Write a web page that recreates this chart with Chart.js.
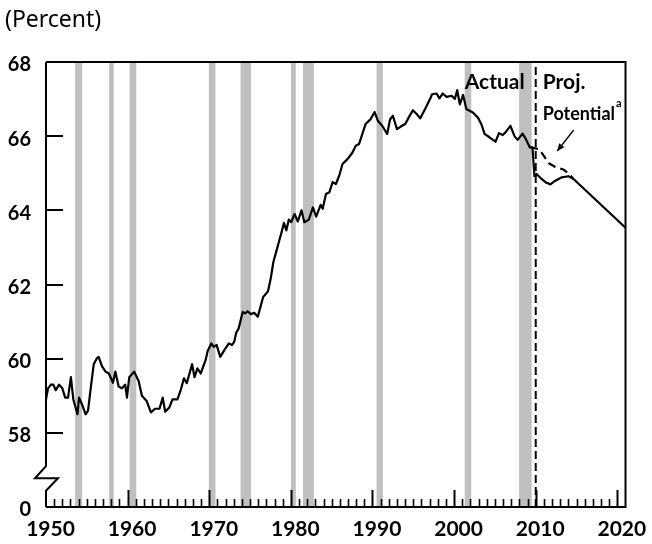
<!DOCTYPE html>
<html>
<head>
<meta charset="utf-8">
<script src="https://cdn.jsdelivr.net/npm/chart.js@4/dist/chart.umd.min.js"></script>
<style>
html,body{margin:0;padding:0;background:#fff;}
#wrap{width:652px;height:544px;position:relative;}
canvas{display:block;}
</style>
</head>
<body>
<div id="wrap"><canvas id="c" width="652" height="544"></canvas></div>
<script>
// ---------- DATA ----------
const actualYears = [
  1950.0,1950.25,1950.6,1950.9,1951.2,1951.6,1952.0,1952.35,1952.7,1953.05,1953.35,1953.85,
  1954.05,1954.45,1954.85,1955.15,1955.45,1955.85,1956.2,1956.45,1956.85,1957.3,1957.7,1958.2,
  1958.5,1958.9,1959.3,1959.7,1959.92,1960.2,1960.8,1961.35,1961.75,1962.35,1962.85,1963.35,
  1963.9,1964.3,1964.6,1965.1,1965.5,1966.1,1966.5,1966.9,1967.25,1967.9,1968.2,1968.55,
  1968.95,1969.55,1969.8,1970.25,1970.55,1970.9,1971.35,1971.85,1972.4,1972.8,1973.07,1973.3,
  1973.6,1974.1,1974.4,1974.7,1975.1,1975.5,1975.95,1976.6,1977.2,1977.55,1977.85,1978.25,
  1978.6,1978.85,1979.15,1979.45,1979.75,1980.05,1980.45,1980.85,1981.3,1981.65,1982.2,1982.7,
  1983.1,1983.65,1983.9,1984.3,1984.72,1985.12,1985.52,1985.93,1986.33,1986.94,1987.55,1987.95,
  1988.36,1988.76,1989.16,1989.77,1990.26,1990.67,1991.19,1991.8,1992.15,1992.5,1993.0,1993.62,
  1994.02,1994.43,1994.95,1995.44,1995.84,1996.45,1997.05,1997.3,1997.86,1998.2,1998.6,1999.08,
  1999.69,2000.09,2000.38,2000.7,2001.1,2001.5,2002.3,2002.92,2003.33,2003.73,2004.33,2005.07,
  2005.5,2005.96,2006.36,2006.9,2007.4,2007.78,2008.39,2008.79,2009.27,2009.6,2009.85
];
const actualValues = [
  58.9,59.2,59.3,59.3,59.15,59.3,59.2,58.95,58.95,59.5,58.9,58.5,
  58.95,58.75,58.5,58.6,59.15,59.85,60.0,60.05,59.8,59.65,59.6,59.35,
  59.65,59.25,59.2,59.3,58.95,59.5,59.65,59.4,59.0,58.85,58.55,58.65,
  58.65,58.95,58.57,58.68,58.9,58.9,59.15,59.47,59.34,59.85,59.5,59.74,
  59.6,59.96,60.2,60.41,60.32,60.37,60.05,60.23,60.41,60.37,60.46,60.7,
  60.81,61.26,61.22,61.28,61.2,61.24,61.13,61.66,61.82,62.18,62.6,62.92,
  63.2,63.4,63.66,63.46,63.75,63.68,63.9,63.7,64.0,63.68,63.75,64.08,
  63.83,64.15,64.04,64.44,64.49,64.76,64.71,64.94,65.25,65.38,65.56,65.74,
  65.79,66.06,66.33,66.46,66.65,66.41,66.28,66.06,66.45,66.55,66.19,66.28,
  66.33,66.5,66.7,66.59,66.48,66.73,67.0,67.13,67.15,67.02,67.15,67.06,
  67.09,67.0,67.24,66.86,67.11,66.73,66.64,66.5,66.33,66.06,65.97,65.85,
  66.08,66.03,66.12,66.28,66.0,65.9,66.07,65.92,65.7,65.7,64.9
];
const projYears  = [2009.85,2010.1,2010.6,2011.2,2011.8,2012.4,2013.2,2014.0,2014.6,2021.0];
const projValues = [64.9,64.98,64.87,64.76,64.7,64.8,64.89,64.92,64.85,63.53];
const potentialYears  = [2009.3,2010.4,2011.0,2011.6,2012.4,2013.4,2014.0,2014.6];
const potentialValues = [65.7,65.65,65.47,65.27,65.17,65.1,65.0,64.85];
const recessionStarts = [1953.57,1957.73,1960.24,1969.95,1973.84,1980.0,1981.48,1990.5,2001.3,2007.97];
const recessionEnds   = [1954.42,1958.3,1961.06,1970.76,1975.13,1980.6,1982.82,1991.27,2002.1,2009.5];
const projectionStartYear = 2010;
const xTickValues = [1950,1960,1970,1980,1990,2000,2010,2020];
const xTickLabels = ['1950','1960','1970','1980','1990','2000','2010','2020'];
const yTickValues = [56,58,60,62,64,66,68];
const yTickLabels = ['0','58','60','62','64','66','68'];
const yBreakValue = 57.1;

// ---------- CHART ----------
const toXY = (xs, ys) => xs.map((v, i) => ({ x: v, y: ys[i] }));

const decor = {
  id: 'decor',
  beforeDatasetsDraw(chart) {
    const { ctx, chartArea: a, scales: { x } } = chart;
    ctx.save();
    ctx.fillStyle = '#bfbfbf';
    recessionStarts.forEach((s, i) => {
      const x0 = x.getPixelForValue(s), x1 = x.getPixelForValue(recessionEnds[i]);
      ctx.fillRect(x0, a.top, x1 - x0, a.bottom - a.top);
    });
    ctx.restore();
  },
  afterDatasetsDraw(chart) {
    const { ctx, chartArea: a, scales: { x, y } } = chart;
    ctx.save();
    ctx.strokeStyle = '#000';
    ctx.lineCap = 'butt';
    // x ticks (inward)
    for (let yr = 1951; yr <= 2020; yr++) {
      const px = Math.round(x.getPixelForValue(yr)) + 0.5;
      const major = yr % 10 === 0;
      ctx.lineWidth = major ? 2 : 1.6;
      ctx.beginPath();
      ctx.moveTo(px, a.bottom);
      ctx.lineTo(px, a.bottom - (major ? 17 : 8));
      ctx.stroke();
    }
    // y ticks (inward)
    ctx.lineWidth = 2;
    yTickValues.forEach(v => {
      if (v <= 56 || v >= 68) return;
      const py = Math.round(y.getPixelForValue(v));
      ctx.beginPath();
      ctx.moveTo(a.left, py);
      ctx.lineTo(a.left + 17, py);
      ctx.stroke();
    });
    // frame
    ctx.lineWidth = 2;
    ctx.lineJoin = 'miter';
    ctx.beginPath();
    ctx.moveTo(a.left, a.top);
    ctx.lineTo(a.right, a.top);
    ctx.lineTo(a.right, a.bottom);
    ctx.lineTo(a.left, a.bottom);
    ctx.stroke();
    // broken left axis
    const yb = y.getPixelForValue(yBreakValue);
    ctx.beginPath();
    ctx.moveTo(a.left, a.top);
    ctx.lineTo(a.left, yb);
    ctx.lineTo(a.left - 11, yb + 12);
    ctx.lineTo(a.left + 12, yb + 12);
    ctx.lineTo(a.left, yb + 24.5);
    ctx.lineTo(a.left, a.bottom);
    ctx.stroke();
    ctx.restore();
  },
  afterDraw(chart) {
    const { ctx, chartArea: a, scales: { x } } = chart;
    const x0 = x.getPixelForValue(projectionStartYear);
    ctx.save();
    ctx.fillStyle = '#000';
    ctx.textBaseline = 'alphabetic';
    ctx.font = '23px "Noto Sans", sans-serif';
    ctx.textAlign = 'left';
    ctx.fillText('(Percent)', 5, 26.5);
    ctx.font = 'bold 21px Lato, sans-serif';
    ctx.textAlign = 'right';
    ctx.fillText('Actual', x0 - 11, a.top + 26.5);
    ctx.textAlign = 'left';
    ctx.fillText('Proj.', x0 + 7, a.top + 26.5);
    ctx.font = 'bold 18px Lato, sans-serif';
    ctx.fillText('Potential', x0 + 7, a.top + 58);
    const w = ctx.measureText('Potential').width;
    ctx.font = 'bold 11px Lato, sans-serif';
    ctx.fillText('a', x0 + 7 + w + 1, a.top + 45);
    // arrow
    const ax0 = x0 + 38, ay0 = a.top + 68, ax1 = x0 + 21.5, ay1 = a.top + 89;
    ctx.strokeStyle = '#000';
    ctx.lineWidth = 1.3;
    ctx.beginPath();
    ctx.moveTo(ax0, ay0);
    ctx.lineTo(ax1, ay1);
    ctx.stroke();
    const ang = Math.atan2(ay1 - ay0, ax1 - ax0);
    const L = 8, S = 0.42;
    ctx.beginPath();
    ctx.moveTo(ax1, ay1);
    ctx.lineTo(ax1 - L * Math.cos(ang - S), ay1 - L * Math.sin(ang - S));
    ctx.lineTo(ax1 - L * Math.cos(ang + S), ay1 - L * Math.sin(ang + S));
    ctx.closePath();
    ctx.fill();
    ctx.restore();
  }
};

const lineStyle = { borderColor: '#000', borderWidth: 2.2, pointRadius: 0, tension: 0, fill: false, borderJoinStyle: 'round' };

new Chart(document.getElementById('c'), {
  type: 'line',
  data: {
    datasets: [
      Object.assign({ label: 'Actual', data: toXY(actualYears, actualValues) }, lineStyle),
      Object.assign({ label: 'Projection', data: toXY(projYears, projValues) }, lineStyle),
      Object.assign({ label: 'Potential', data: toXY(potentialYears, potentialValues), borderDash: [8, 5] }, lineStyle),
      Object.assign({ label: 'Projection start', data: [{ x: projectionStartYear, y: 56 }, { x: projectionStartYear, y: 68 }], borderDash: [8, 4], borderWidth: 2 }, { borderColor: '#000', pointRadius: 0, tension: 0, fill: false })
    ]
  },
  options: {
    responsive: false,
    animation: false,
    devicePixelRatio: 1,
    layout: { padding: { left: 0, right: 21, top: 62, bottom: 0 } },
    plugins: { legend: { display: false }, tooltip: { enabled: false }, title: { display: false } },
    scales: {
      x: {
        type: 'linear',
        min: 1950,
        max: 2021,
        grid: { display: false, drawTicks: false },
        border: { display: false },
        afterBuildTicks: s => { s.ticks = xTickValues.map(v => ({ value: v })); },
        afterFit: s => { s.height = 37; },
        ticks: {
          autoSkip: false,
          maxRotation: 0,
          padding: 10,
          labelOffset: 4.5,
          color: '#000',
          font: { family: 'Lato', weight: 'bold', size: 21 },
          callback: v => xTickLabels[xTickValues.indexOf(v)]
        }
      },
      y: {
        type: 'linear',
        min: 56,
        max: 68,
        grid: { display: false, drawTicks: false },
        border: { display: false },
        afterBuildTicks: s => { s.ticks = yTickValues.map(v => ({ value: v })); },
        afterFit: s => { s.width = 46; },
        ticks: {
          autoSkip: false,
          padding: 15,
          labelOffset: 3,
          color: '#000',
          font: { family: 'Lato', weight: 'bold', size: 20 },
          callback: v => yTickLabels[yTickValues.indexOf(v)]
        }
      }
    }
  },
  plugins: [decor]
});
</script>
</body>
</html>
